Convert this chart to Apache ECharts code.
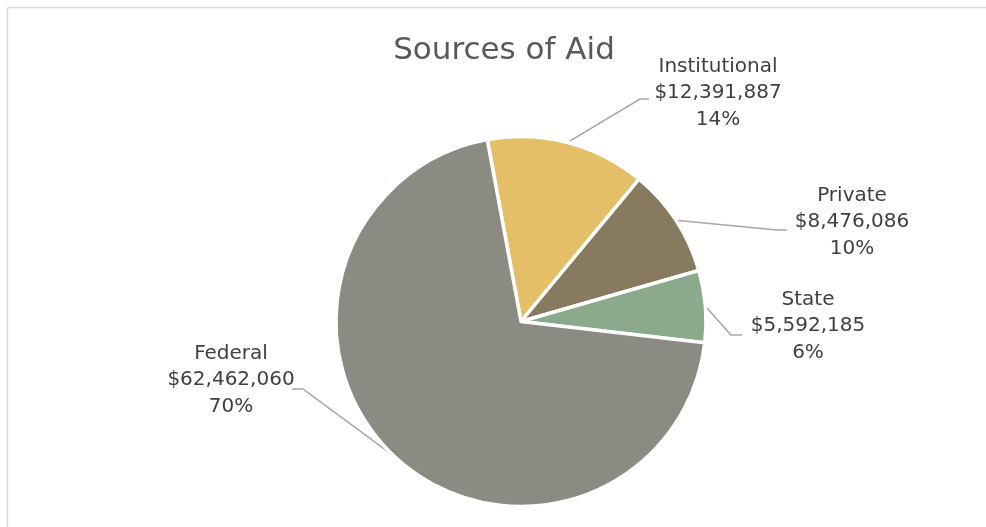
<!DOCTYPE html>
<html>
<head>
<meta charset="utf-8">
<script src="https://cdn.jsdelivr.net/npm/echarts@6/dist/echarts.min.js"></script>
<style>
html,body{margin:0;padding:0;background:#fff;}
#chart{width:986px;height:527px;}
</style>
</head>
<body>
<div id="chart"></div>
<script>
const categories = ['Institutional', 'Private', 'State', 'Federal'];
const values = [12391887, 8476086, 5592185, 62462060];
const colors = ['#E5BF67', '#877A5F', '#8BAA8B', '#8B8B83'];
const titleText = 'Sources of Aid';

// label placement (layout only): label centre, leader elbow, leader end
const labelPlacement = [
  { x: 718, y: 93,  elbow: [640, 99],  end: [649, 99] },
  { x: 852, y: 222, elbow: [777, 230], end: [787, 230] },
  { x: 808, y: 326, elbow: [731, 335], end: [742, 335] },
  { x: 231, y: 380, elbow: [303, 389], end: [292, 389] }
];

const chart = echarts.init(document.getElementById('chart'), null, { renderer: 'canvas' });

const option = {
  backgroundColor: '#ffffff',
  animation: false,
  title: {
    text: titleText,
    left: 499,
    top: 28,
    textAlign: 'center',
    textStyle: {
      fontFamily: 'DejaVu Sans',
      fontSize: 31,
      fontWeight: 'normal',
      color: '#595959',
      lineHeight: 36
    }
  },
  graphic: [
    { type: 'line', shape: { x1: 7.5, y1: 7.5, x2: 986, y2: 7.5 }, style: { stroke: '#d9d9d9', lineWidth: 1.5 } },
    { type: 'line', shape: { x1: 7.5, y1: 7.5, x2: 7.5, y2: 527 }, style: { stroke: '#d9d9d9', lineWidth: 1.5 } }
  ],
  series: [{
    type: 'pie',
    center: [521, 321.5],
    radius: 185,
    startAngle: 100.5,
    clockwise: true,
    avoidLabelOverlap: false,
    data: categories.map((c, i) => ({ name: c, value: values[i], itemStyle: { color: colors[i] } })),
    itemStyle: { borderColor: '#ffffff', borderWidth: 3.5 },
    label: {
      show: true,
      position: 'outside',
      fontFamily: 'DejaVu Sans',
      fontSize: 20,
      lineHeight: 26.5,
      color: '#404040',
      align: 'center',
      formatter: function (p) {
        return p.name + '\n$' + p.value.toLocaleString('en-US') + '\n' + Math.round(p.percent) + '%';
      }
    },
    labelLine: {
      show: true,
      length: 20,
      length2: 10,
      lineStyle: { color: '#a6a6a6', width: 1.5 }
    },
    labelLayout: function (params) {
      const pl = labelPlacement[params.dataIndex];
      const start = params.labelLinePoints ? params.labelLinePoints[0] : pl.elbow;
      return {
        x: pl.x,
        y: pl.y,
        align: 'center',
        verticalAlign: 'middle',
        labelLinePoints: [start, pl.elbow, pl.end]
      };
    },
    emphasis: { disabled: true }
  }]
};
chart.setOption(option);
</script>
</body>
</html>
